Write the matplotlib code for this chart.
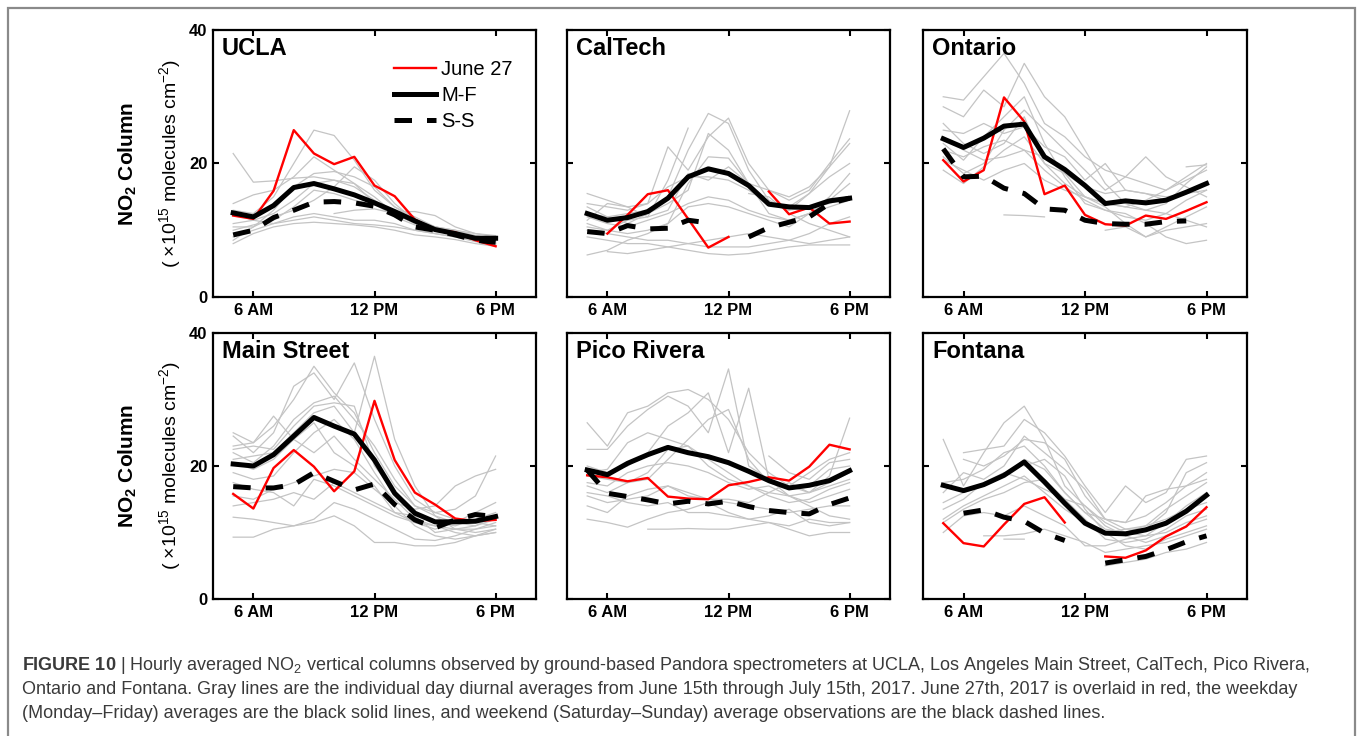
import numpy as np
import matplotlib
matplotlib.use("Agg")
import matplotlib.pyplot as plt
from matplotlib.patches import Rectangle

plt.rcParams['font.family'] = ['Liberation Sans', 'DejaVu Sans']
plt.rcParams['mathtext.fontset'] = 'custom'
plt.rcParams['mathtext.rm'] = 'Liberation Sans'
plt.rcParams['mathtext.it'] = 'Liberation Sans:italic'
plt.rcParams['mathtext.bf'] = 'Liberation Sans:bold'

nan = np.nan
hours = [5, 6, 7, 8, 9, 10, 11, 12, 13, 14, 15, 16, 17, 18]
xtick_pos = [6, 12, 18]
xtick_labels = ["6 AM", "12 PM", "6 PM"]
ytick_pos = [0, 20, 40]
sites = ["UCLA", "CalTech", "Ontario", "Main Street", "Pico Rivera", "Fontana"]

# June 27 (red)
ucla_june27 = [12.2, 11.7, 15.9, 25.0, 21.5, 19.9, 21.0, 16.7, 15.1, 11.6, 10.1, 9.7, 8.5, 7.6]
caltech_june27 = [nan, 9.5, 12.3, 15.4, 16.0, 11.7, 7.4, 9.0, nan, 15.8, 12.4, 13.4, 11.0, 11.3]
ontario_june27 = [20.5, 17.3, 19.0, 29.9, 26.3, 15.4, 16.7, 12.3, 10.9, 10.7, 12.2, 11.7, 12.9, 14.2]
main_june27 = [15.8, 13.6, 19.7, 22.4, 19.9, 16.2, 19.2, 29.8, 20.9, 16.0, 14.2, 12.1, 11.7, 11.9]
pico_june27 = [18.6, 18.3, 17.7, 18.2, 15.4, 15.1, 15.0, 17.1, 17.6, 18.3, 17.8, 19.9, 23.2, 22.5]
fontana_june27 = [11.4, 8.4, 7.9, 11.2, 14.3, 15.3, 11.5, nan, 6.4, 6.2, 7.3, 9.4, 10.9, 13.8]

# Weekday (Monday-Friday) averages
ucla_mf = [12.6, 12.0, 13.7, 16.4, 17.0, 16.2, 15.3, 14.1, 12.8, 11.4, 10.1, 9.5, 8.8, 8.8]
caltech_mf = [12.5, 11.5, 11.9, 12.8, 14.8, 18.0, 19.2, 18.5, 16.7, 13.9, 13.5, 13.4, 14.4, 14.8]
ontario_mf = [23.7, 22.4, 23.8, 25.6, 25.9, 21.0, 19.1, 16.7, 14.0, 14.4, 14.1, 14.5, 15.7, 17.0]
main_mf = [20.3, 20.0, 21.7, 24.5, 27.3, 26.0, 24.8, 20.9, 15.9, 12.9, 11.6, 11.6, 11.7, 12.4]
pico_mf = [19.4, 18.7, 20.4, 21.7, 22.8, 22.0, 21.4, 20.5, 19.2, 17.8, 16.7, 17.1, 17.8, 19.3]
fontana_mf = [17.1, 16.3, 17.2, 18.6, 20.6, 17.6, 14.4, 11.4, 9.9, 9.8, 10.4, 11.4, 13.2, 15.6]

# Weekend (Saturday-Sunday) averages
ucla_ss = [9.3, 10.0, 11.9, 13.0, 14.2, 14.3, 14.1, 13.6, 12.3, 10.5, 10.0, 9.3, 8.5, 8.2]
caltech_ss = [9.8, 9.5, 10.7, 10.2, 10.3, 11.5, 11.1, nan, 9.0, 10.4, 11.2, 12.0, 14.0, 14.8]
ontario_ss = [22.2, 18.0, 18.1, 16.3, 15.5, 13.2, 13.0, 11.5, 11.0, 10.9, 10.9, 11.3, 11.4, nan]
main_ss = [16.9, 16.7, 16.7, 17.2, 19.0, 17.7, 16.4, 17.3, 14.2, 11.9, 10.7, 11.9, 12.7, 12.4]
pico_ss = [19.4, 15.9, 15.4, 14.9, 14.3, 14.7, 14.3, 14.7, 13.9, 13.3, 13.0, 12.8, 14.2, 15.2]
fontana_ss = [nan, 12.9, 13.4, 12.3, 11.7, 9.9, 8.8, nan, 5.4, 5.9, 6.4, 7.4, 8.6, 9.5]

# Individual days (gray)
ucla_days = [
    [21.5, 17.2, 17.4, 17.8, 18.0, 17.5, 16.5, 14.5, 12.5, 11.5, 10.5, 9.8, 9.0, 8.6],
    [13.0, 12.5, 15.0, 20.0, 25.0, 24.2, 20.5, 16.0, 13.5, 11.5, 10.5, 10.0, 9.2, 8.6],
    [14.0, 15.3, 16.0, 18.0, 21.0, 19.0, 17.0, 15.0, 12.5, 11.0, 10.2, 9.6, 9.0, 8.2],
    [10.5, 10.5, 13.0, 16.5, 18.5, 18.8, 18.0, 16.5, 13.5, 12.0, 10.5, 9.7, 9.0, 8.0],
    [9.0, 10.0, 11.0, 12.0, 12.5, 12.0, 11.5, 11.5, 11.0, 10.0, 9.5, 9.0, 8.5, 8.0],
    [8.0, 9.5, 10.5, 11.0, 11.2, 11.0, 10.8, 10.5, 10.0, 9.3, 9.0, 8.6, 8.0, 7.6],
    [11.0, 11.5, 11.0, 11.5, 12.0, 11.5, 11.0, 10.8, 10.5, 10.0, 9.5, 9.0, 8.3, 7.8],
    [8.5, 10.5, 12.0, 13.0, 14.5, 16.5, 19.5, 17.5, 14.0, 11.5, 10.5, 9.8, 9.2, 8.8],
    [12.5, 11.5, 12.5, 14.5, 17.0, 17.5, 17.0, 14.0, 12.0, 10.8, 10.0, 9.4, 8.8, 8.3],
    [nan, nan, nan, nan, nan, 12.5, 13.0, 13.2, 12.5, 11.0, 10.5, 10.0, 9.5, 9.0],
    [10.0, 10.8, 11.5, 13.5, 16.0, 15.5, 14.5, 13.8, 12.8, 12.8, 12.2, 10.5, 9.5, 9.2],
]
caltech_days = [
    [12.5, 12.0, 12.5, 13.0, 15.0, 22.0, 27.5, 26.0, 19.0, 14.5, 13.0, 15.5, 19.5, 27.9],
    [14.0, 13.5, 13.0, 14.0, 22.5, 19.0, 24.0, 26.8, 20.0, 16.0, 14.5, 16.0, 20.0, 23.7],
    [11.5, 14.0, 13.5, 12.0, 17.5, 25.3, nan, nan, nan, nan, nan, nan, nan, nan],
    [10.5, 10.0, 9.5, 10.0, 11.0, 17.0, 21.0, 20.8, 17.0, 16.0, 15.0, 16.5, 19.5, 23.0],
    [6.3, 7.0, 8.5, 9.5, 11.0, 13.5, 14.0, 13.5, 12.5, 11.5, 10.5, 12.5, 15.0, 18.5],
    [12.0, 11.0, 10.5, 11.5, 12.5, 14.0, 15.0, 14.5, 13.0, 12.0, 11.5, 12.5, 14.5, 17.0],
    [9.0, 8.5, 8.0, 8.0, 7.5, 7.0, 6.5, 6.3, 6.5, 7.0, 7.5, 7.8, 7.8, 7.8],
    [10.0, 9.5, 9.0, 8.5, 8.5, 8.0, 7.5, 7.5, 7.5, 8.0, 8.5, 9.5, 11.0, 12.0],
    [15.5, 14.5, 13.5, 14.0, 16.5, 18.0, 18.0, 17.5, 16.0, 14.0, 13.0, 13.5, 14.0, 15.0],
    [nan, nan, nan, nan, nan, nan, nan, nan, 15.5, 15.0, 12.5, 11.0, 10.0, 9.0],
    [13.5, 12.0, 11.0, 12.5, 14.0, 16.0, 24.5, 22.0, 17.0, 14.0, 13.5, 15.5, 18.0, 20.0],
    [11.0, 10.0, 11.5, 12.0, 13.0, 18.5, 17.5, 19.5, 17.0, 12.5, 11.5, 12.5, 13.5, 14.5],
    [nan, 6.8, 6.5, 7.0, 7.5, 8.0, 8.5, 9.0, 9.5, 9.0, 8.5, 8.0, 8.5, 9.0],
]
ontario_days = [
    [30.0, 29.5, 33.0, 36.5, 32.0, 26.0, 24.0, 21.0, 19.0, 18.0, 17.0, 16.0, 18.0, 20.0],
    [28.5, 27.0, 31.0, 28.5, 35.0, 30.0, 27.0, 22.0, 17.0, 14.0, 13.0, 14.0, 17.0, 19.5],
    [23.0, 20.5, 24.0, 27.0, 30.0, 23.0, 18.0, 14.0, 13.0, 12.0, 11.5, 12.5, 14.5, 16.0],
    [19.0, 17.0, 19.5, 22.0, 24.0, 20.0, 18.5, 15.0, 13.5, 11.0, 9.0, 10.5, 12.0, 13.5],
    [25.0, 24.5, 26.0, 24.5, 25.5, 22.5, 21.0, 17.5, 20.0, 16.0, 15.5, 14.5, 15.5, 16.0],
    [21.0, 18.5, 20.0, 25.0, 28.0, 25.0, 22.0, 19.0, 16.0, 18.0, 21.0, 18.0, 16.5, 15.0],
    [26.0, 23.0, 21.5, 23.0, 27.0, 20.0, 17.0, 15.0, 14.0, 13.5, 13.0, 12.5, 11.5, 10.5],
    [22.0, 21.0, 22.5, 23.5, 22.0, 19.0, 16.5, 14.5, 13.0, 12.5, 11.0, 9.0, 8.0, 8.5],
    [nan, nan, nan, 12.3, 12.2, 12.0, nan, nan, nan, nan, nan, nan, nan, nan],
    [nan, nan, nan, nan, nan, nan, nan, nan, nan, nan, nan, nan, 19.5, 19.8],
    [nan, nan, nan, nan, nan, nan, nan, nan, 10.0, 10.5, 9.0, 10.0, 10.5, 11.0],
    [20.5, 19.0, 17.5, 19.0, 20.0, 17.5, 16.0, 15.0, 14.0, 13.5, 14.5, 16.0, 17.5, 19.0],
    [24.0, 22.0, 20.5, 21.0, 22.0, 21.0, 18.5, 16.5, 15.5, 16.0, 15.5, 15.0, 15.5, 17.0],
]
main_days = [
    [23.0, 23.5, 26.0, 30.0, 35.0, 31.0, 28.0, 22.0, 17.0, 14.0, 12.5, 11.5, 11.0, 12.0],
    [24.5, 22.0, 25.0, 32.0, 34.0, 30.0, 35.5, 27.0, 20.0, 15.0, 13.0, 12.0, 11.5, 11.0],
    [21.0, 21.5, 22.0, 25.0, 28.0, 29.0, 25.0, 36.5, 24.0, 17.0, 12.5, 10.5, 10.0, 10.5],
    [22.0, 20.5, 23.0, 27.0, 29.5, 30.5, 27.0, 23.0, 18.0, 14.0, 13.0, 13.5, 15.5, 21.5],
    [9.3, 9.3, 10.5, 11.0, 11.5, 12.5, 11.0, 8.5, 8.5, 8.0, 8.0, 8.5, 9.5, 10.0],
    [12.3, 12.0, 11.5, 11.0, 12.0, 14.5, 13.5, 12.0, 10.5, 9.0, 8.8, 9.5, 10.5, 11.5],
    [14.0, 14.5, 15.0, 16.0, 15.0, 17.5, 16.0, 14.5, 13.0, 11.5, 10.5, 11.5, 13.0, 14.5],
    [19.0, 18.0, 18.5, 22.0, 25.0, 27.0, 24.0, 19.0, 14.5, 13.5, 14.0, 17.0, 18.5, 19.5],
    [25.0, 23.5, 27.5, 24.0, 22.0, 24.5, 21.0, 18.0, 15.0, 12.0, 11.0, 10.0, 9.5, 10.0],
    [17.5, 16.5, 16.0, 14.0, 18.0, 17.0, 15.5, 14.0, 12.5, 11.5, 11.0, 10.5, 10.5, 11.0],
    [20.5, 19.5, 21.0, 24.0, 26.5, 22.0, 20.0, 17.0, 13.0, 12.5, 10.0, 10.5, 11.0, 12.5],
    [15.5, 15.0, 16.5, 17.5, 18.5, 19.5, 19.0, 16.5, 14.0, 11.0, 9.5, 9.0, 9.5, 10.5],
    [22.5, 23.0, 22.5, 26.0, 29.0, 29.5, 29.0, 20.0, 16.0, 13.0, 11.5, 11.0, 12.0, 13.0],
]
pico_days = [
    [26.5, 23.0, 28.0, 29.0, 31.0, 31.5, 30.0, 27.0, 22.0, 19.0, 17.0, 16.0, 17.0, 18.0],
    [22.5, 22.5, 26.0, 28.5, 30.5, 29.0, 25.0, 34.6, 20.0, 18.0, 17.0, 19.0, 21.0, 22.0],
    [20.0, 19.0, 20.0, 22.0, 26.0, 28.0, 31.0, 22.0, 31.7, 18.0, 15.5, 16.0, 18.5, 27.2],
    [19.0, 19.5, 23.5, 25.0, 24.0, 23.0, 20.0, 18.0, 17.0, 16.0, 17.5, 16.0, 17.5, 19.0],
    [17.0, 16.0, 17.5, 18.0, 21.0, 24.0, 27.0, 28.5, 21.0, 17.5, 16.5, 17.0, 19.5, 20.0],
    [15.5, 14.5, 15.0, 15.5, 17.0, 16.0, 15.0, 14.5, 14.0, 13.5, 13.0, 13.5, 14.0, 14.0],
    [14.0, 13.0, 15.5, 16.5, 17.0, 15.5, 15.0, 15.0, 14.5, 16.0, 15.5, 14.5, 15.5, 16.5],
    [12.0, 11.5, 10.8, 12.0, 13.0, 13.5, 14.5, 13.0, 12.0, 11.5, 11.0, 12.0, 11.5, 11.5],
    [nan, nan, nan, 10.5, 10.5, 10.6, 10.5, 10.5, 11.0, 11.5, 10.5, 9.5, 10.0, 10.0],
    [18.5, 18.0, 17.5, 19.0, 22.5, 23.0, 21.0, 19.0, 17.0, 15.5, 14.5, 15.0, 16.5, 17.5],
    [17.5, 17.0, 19.0, 20.0, 20.5, 20.0, 19.0, 17.5, 16.5, 17.0, 15.5, 14.0, 12.5, 12.0],
    [nan, nan, nan, nan, nan, nan, nan, nan, nan, 21.5, 19.0, 18.0, 20.5, 21.0],
    [16.0, 15.5, 14.5, 14.0, 14.5, 13.0, 13.0, 12.5, 12.0, 12.5, 13.5, 11.5, 11.0, 11.5],
]
fontana_days = [
    [24.0, 17.0, 22.0, 26.5, 29.0, 24.0, 17.0, 14.0, 11.5, 10.0, 9.5, 11.5, 14.0, 16.0],
    [nan, 22.0, 22.5, 23.0, 27.0, 25.0, 21.5, 17.0, 13.0, 17.0, 14.5, 16.0, 21.0, 21.5],
    [nan, 21.0, 20.0, 21.5, 24.0, 23.5, 21.0, 15.5, 12.0, 11.5, 15.5, 16.5, 17.0, 18.0],
    [17.5, 18.0, 19.5, 22.0, 23.0, 20.0, 16.0, 13.0, 12.0, 11.5, 12.5, 14.5, 17.0, 19.0],
    [12.0, 14.0, 15.5, 17.0, 18.5, 16.0, 13.5, 11.5, 10.0, 10.5, 11.0, 12.0, 13.5, 14.5],
    [10.0, 12.5, 13.0, 12.5, 14.0, 12.5, 11.0, 8.0, 8.0, 9.0, 9.5, 10.0, 11.5, 12.5],
    [nan, nan, 9.5, 9.5, 9.8, 10.5, 9.5, 8.5, 7.0, 7.5, 8.0, 8.5, 9.5, 10.5],
    [nan, nan, nan, 9.0, 9.0, nan, nan, nan, 5.0, 5.5, 6.0, 7.0, 7.5, 8.5],
    [14.5, 16.0, 17.0, 18.5, 21.0, 19.5, 16.0, 13.0, 10.5, 10.0, 11.0, 13.5, 15.5, 17.5],
    [11.5, 13.5, 15.0, 16.0, 17.5, 18.0, 15.0, 12.0, 9.0, 8.5, 9.0, 10.5, 12.5, 13.5],
    [nan, nan, nan, nan, 20.0, 21.0, 18.5, 13.5, 10.0, 8.0, 7.5, 9.0, 10.0, 11.0],
    [16.0, 19.0, 18.0, 20.0, 24.5, 22.0, 19.5, 16.5, 12.0, 10.5, 10.5, 13.0, 19.0, 20.5],
    [13.5, 15.0, 17.5, 19.0, 18.0, 16.5, 15.0, 14.0, 11.0, 9.5, 8.5, 9.5, 11.0, 12.0],
]

june27 = [ucla_june27, caltech_june27, ontario_june27, main_june27, pico_june27, fontana_june27]
mf = [ucla_mf, caltech_mf, ontario_mf, main_mf, pico_mf, fontana_mf]
ss = [ucla_ss, caltech_ss, ontario_ss, main_ss, pico_ss, fontana_ss]
days = [ucla_days, caltech_days, ontario_days, main_days, pico_days, fontana_days]

W, H = 1358, 736
fig = plt.figure(figsize=(W / 100, H / 100), dpi=100)

col_left = [213, 567, 923]
col_w = [323, 323, 324]
row_top = [30, 333]
row_h = [267, 266]

for i, site in enumerate(sites):
    r, c = divmod(i, 3)
    ax = fig.add_axes([col_left[c] / W, 1 - (row_top[r] + row_h[r]) / H,
                       col_w[c] / W, row_h[r] / H])
    for d in days[i]:
        ax.plot(hours, d, color='#c4c4c4', lw=0.9, zorder=1)
    ax.plot(hours, june27[i], color='#ff0000', lw=1.7, zorder=3, label='June 27')
    ax.plot(hours, mf[i], color='black', lw=3.6, zorder=4, label='M-F',
            solid_joinstyle='round')
    ax.plot(hours, ss[i], color='black', lw=3.6, zorder=4, label='S-S',
            linestyle=(0, (3.5, 3.0)))
    ax.set_xlim(4, 20)
    ax.set_ylim(0, 40)
    ax.set_xticks(xtick_pos)
    ax.set_xticklabels(xtick_labels, fontweight='bold', fontsize=12)
    ax.set_yticks(ytick_pos)
    if c == 0:
        ax.set_yticklabels([str(v) for v in ytick_pos], fontweight='bold', fontsize=12)
    else:
        ax.set_yticklabels([])
    ax.tick_params(direction='in', top=True, right=True, length=4, width=1.5, pad=4)
    for s in ax.spines.values():
        s.set_linewidth(1.6)
    ax.text(0.028, 0.975, site, transform=ax.transAxes, ha='left', va='top',
            fontsize=17, fontweight='bold')
    if i == 0:
        ax.legend(loc='upper left', bbox_to_anchor=(0.56, 0.888), frameon=False,
                  fontsize=14.5, handlelength=2.1, handletextpad=0.25,
                  labelspacing=0.35, borderaxespad=0.0, borderpad=0.0)
    if c == 0:
        yc = 1 - (row_top[r] + row_h[r] / 2) / H
        fig.text(128 / W, yc, r'NO$_\mathbf{2}$ Column', rotation=90, ha='center',
                 va='center', fontsize=15, fontweight='bold')
        fig.text(170 / W, yc, '( \u00d710$^{15}$ molecules cm$^{-2}$)', rotation=90,
                 ha='center', va='center', fontsize=14)

# outer frame
fig.patches.append(Rectangle((8 / W, -0.05), (1355 - 8) / W, 1.05 - 8 / H,
                             transform=fig.transFigure, fill=False,
                             edgecolor='#8a8a8a', lw=1.6))

cap_lines = [
    r"$\mathbf{FIGURE\ 10}$ | Hourly averaged NO$_2$ vertical columns observed by ground-based Pandora spectrometers at UCLA, Los Angeles Main Street, CalTech, Pico Rivera,",
    "Ontario and Fontana. Gray lines are the individual day diurnal averages from June 15th through July 15th, 2017. June 27th, 2017 is overlaid in red, the weekday",
    "(Monday\u2013Friday) averages are the black solid lines, and weekend (Saturday\u2013Sunday) average observations are the black dashed lines.",
]
cap_y = [665, 689, 713]
for t, yy in zip(cap_lines, cap_y):
    fig.text(22 / W, 1 - yy / H, t, ha='left', va='center', fontsize=13,
             color='#3a3a3a')

fig.savefig('out.png', dpi=100)
